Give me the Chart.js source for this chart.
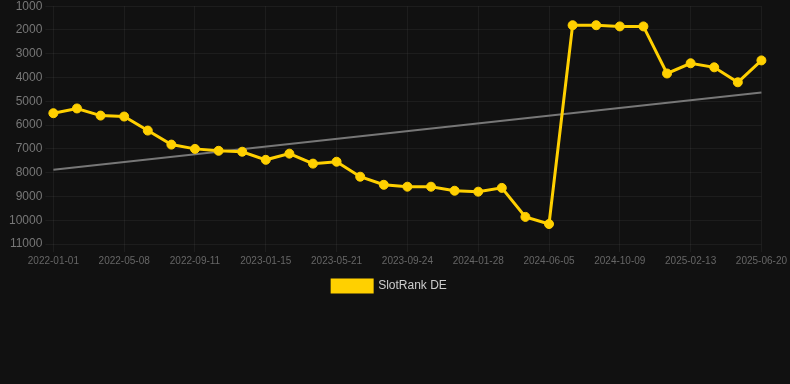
<!DOCTYPE html>
<html>
<head>
<meta charset="utf-8">
<script src="https://cdn.jsdelivr.net/npm/chart.js@4/dist/chart.umd.min.js"></script>
<style>
    html, body { margin: 0; padding: 0; background: #111111; overflow: hidden; }
    .chart-box { position: relative; top: -4px; width: 790px; height: 306px; }
</style>
</head>
<body>
<div class="chart-box"><canvas id="rankChart"></canvas></div>
<script>
// dates (every 3rd one is printed on the axis, the others are estimates)
const dates = [
    '2022-01-01', '2022-02-12', '2022-03-26', '2022-05-08', '2022-06-19', '2022-07-31',
    '2022-09-11', '2022-10-23', '2022-12-04', '2023-01-15', '2023-02-26', '2023-04-09',
    '2023-05-21', '2023-07-02', '2023-08-13', '2023-09-24', '2023-11-05', '2023-12-17',
    '2024-01-28', '2024-03-10', '2024-04-23', '2024-06-05', '2024-07-17', '2024-08-28',
    '2024-10-09', '2024-11-20', '2025-01-01', '2025-02-13', '2025-03-27', '2025-05-09',
    '2025-06-20'
];

const slotRank = [
    5500, 5300, 5600, 5640, 6230, 6820, 7000, 7080, 7120, 7460, 7200, 7620,
    7540, 8170, 8510, 8590, 8590, 8760, 8800, 8640, 9860, 10160, 1800, 1800,
    1850, 1850, 3830, 3400, 3570, 4200, 3280
];

// trend line end points
const trendStart = 7880;
const trendEnd = 4630;

const yTicksMin = 1000;
const yTicksMax = 11000;
const yTicksStep = 1000;

const trend = dates.map((d, i) => i === 0 ? trendStart : (i === dates.length - 1 ? trendEnd : null));

Chart.defaults.font.family = 'Arial, "Liberation Sans", sans-serif';

new Chart(document.getElementById('rankChart'), {
    type: 'line',
    data: {
        labels: dates,
        datasets: [
            {
                label: 'SlotRank DE',
                data: slotRank,
                borderColor: '#ffd000',
                backgroundColor: '#ffd000',
                pointBackgroundColor: '#ffd000',
                pointBorderColor: '#ffd000',
                borderWidth: 3,
                pointRadius: 4.5,
                pointBorderWidth: 1,
                tension: 0
            },
            {
                label: 'trend',
                data: trend,
                borderColor: '#777777',
                borderWidth: 2,
                pointRadius: 0,
                spanGaps: true,
                tension: 0
            }
        ]
    },
    options: {
        responsive: true,
        maintainAspectRatio: false,
        animation: false,
        layout: { padding: { left: 6, right: 17 } },
        plugins: {
            legend: {
                position: 'bottom',
                labels: {
                    color: '#cccccc',
                    font: { size: 12 },
                    boxWidth: 40,
                    boxHeight: 12,
                    filter: item => item.text !== 'trend'
                }
            },
            tooltip: { enabled: false }
        },
        scales: {
            y: {
                reverse: true,
                min: yTicksMin,
                max: yTicksMax,
                ticks: {
                    stepSize: yTicksStep,
                    color: '#777777',
                    font: { size: 12 },
                    callback: v => String(v)
                },
                grid: { color: 'rgba(255,255,255,0.05)' },
                border: { display: false }
            },
            x: {
                ticks: {
                    color: '#666666',
                    font: { size: 10 },
                    maxRotation: 0,
                    autoSkip: true,
                    maxTicksLimit: 11
                },
                grid: { color: 'rgba(255,255,255,0.05)' },
                border: { display: false }
            }
        }
    }
});
</script>
</body>
</html>
